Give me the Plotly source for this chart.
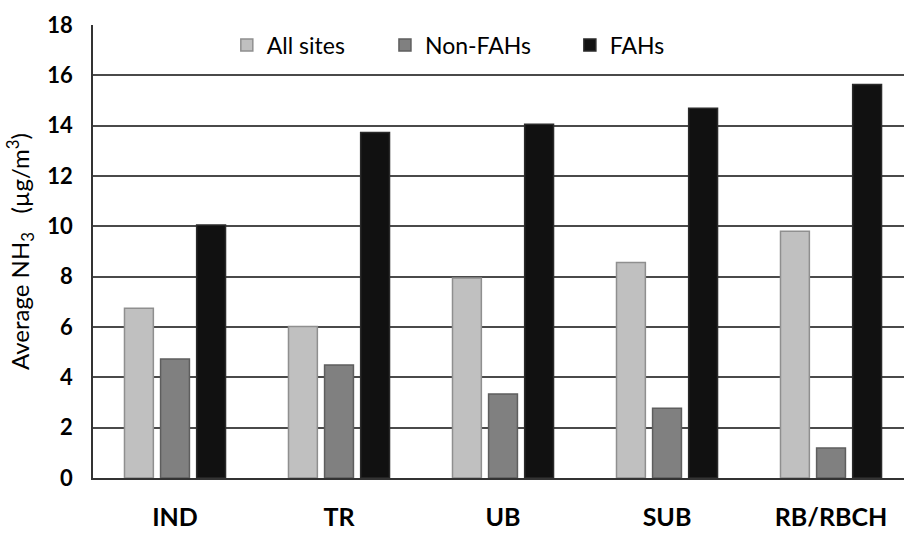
import plotly.graph_objects as go

categories = ["IND", "TR", "UB", "SUB", "RB/RBCH"]
all_sites = [6.75, 6.02, 7.95, 8.56, 9.80]
non_fahs = [4.73, 4.49, 3.34, 2.77, 1.19]
fahs = [10.05, 13.73, 14.06, 14.69, 15.64]
y_ticks = [0, 2, 4, 6, 8, 10, 12, 14, 16, 18]

FONT = "Lato, 'Open Sans', 'Liberation Sans', sans-serif"

fig = go.Figure()
series = [
    ("All sites", all_sites, "#c0c0c0", "#8f8f8f", "legend", 0.165),
    ("Non-FAHs", non_fahs, "#808080", "#5e5e5e", "legend2", 0.360),
    ("FAHs", fahs, "#111111", "#2a2a2a", "legend3", 0.588),
]
legend_layout = {}
for name, vals, fill, line, lg, lx in series:
    fig.add_trace(go.Bar(
        x=categories, y=vals, name=name, legend=lg,
        marker=dict(color=fill, line=dict(color=line, width=1.5)),
    ))
    legend_layout[lg] = dict(
        orientation="h", x=lx, y=0.956, xanchor="left", yanchor="middle",
        font=dict(size=23, family=FONT), bgcolor="rgba(255,255,255,0)",
    )

fig.update_layout(
    width=904, height=534,
    margin=dict(l=93, r=0, t=25, b=56),
    paper_bgcolor="white", plot_bgcolor="white",
    barmode="group", bargap=0.34, bargroupgap=0.2,
    font=dict(family=FONT, color="black"),
    showlegend=True,
    **legend_layout,
)
fig.update_xaxes(
    range=[-0.5, 4.445], showgrid=False, automargin=False,
    showline=True, linecolor="#333", linewidth=2,
    tickfont=dict(size=25, family=FONT, weight="bold"),
    ticks="", ticklabelstandoff=16,
)
fig.update_yaxes(
    range=[0, 18], tickvals=y_ticks, automargin=False,
    showgrid=True, gridcolor="#4a4a4a", gridwidth=1.5,
    showline=True, linecolor="#333", linewidth=1.5, mirror=False,
    tickfont=dict(size=22, family=FONT, weight="bold"),
    ticks="", ticklabelstandoff=14, zeroline=False,
    title=dict(text="Average NH<sub>3</sub>   (µg/m<sup>3</sup>)",
               font=dict(size=24, family=FONT), standoff=11),
)
fig.write_html("out.html", config={"displayModeBar": False},
               post_script="document.body.style.margin='0';")
